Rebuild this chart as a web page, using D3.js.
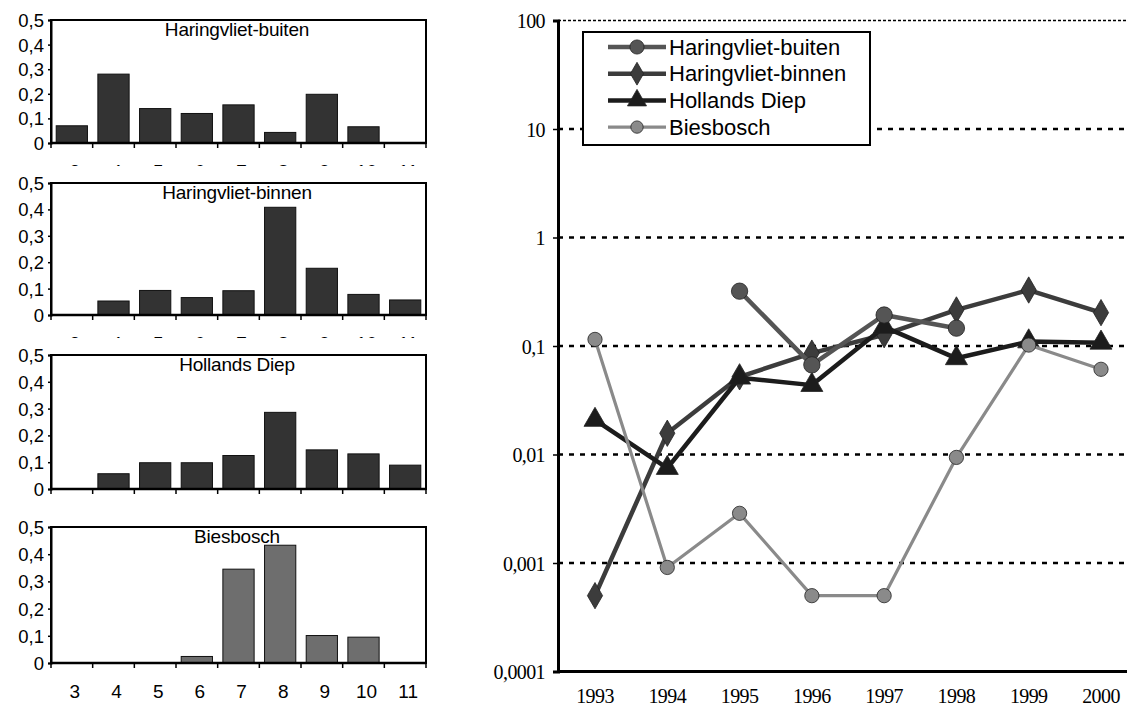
<!DOCTYPE html>
<html>
<head>
<meta charset="utf-8">
<script src="https://cdn.jsdelivr.net/npm/d3@7"></script>
<style>
  html, body { margin: 0; padding: 0; background: #fff; }
  svg { display: block; }
</style>
</head>
<body>
<svg id="chart" width="1127" height="713"></svg>
<script>
// Month categories for the small bar panels
const months = [3, 4, 5, 6, 7, 8, 9, 10, 11];
const barTicks = [0, 0.1, 0.2, 0.3, 0.4, 0.5];
const barTickLabels = ["0", "0,1", "0,2", "0,3", "0,4", "0,5"];

// Monthly share per location
const locations = ["Haringvliet-buiten", "Haringvliet-binnen", "Hollands Diep", "Biesbosch"];
const buitenMonthly = [0.07, 0.28, 0.14, 0.12, 0.155, 0.043, 0.198, 0.066, 0];
const binnenMonthly = [0, 0.053, 0.093, 0.066, 0.092, 0.408, 0.177, 0.078, 0.057];
const diepMonthly   = [0, 0.057, 0.098, 0.098, 0.125, 0.286, 0.146, 0.131, 0.089];
const biesMonthly   = [0, 0, 0, 0.024, 0.345, 0.433, 0.101, 0.095, 0];

// Yearly values (log scale chart)
const years = [1993, 1994, 1995, 1996, 1997, 1998, 1999, 2000];
const buitenYearly = [null, null, 0.32, 0.067, 0.193, 0.146, null, null];
const binnenYearly = [0.0005, 0.0157, 0.052, 0.086, 0.127, 0.215, 0.328, 0.203];
const diepYearly   = [0.0208, 0.0075, 0.051, 0.0436, 0.15, 0.077, 0.11, 0.107];
const biesYearly   = [0.115, 0.00091, 0.00287, 0.0005, 0.0005, 0.0094, 0.102, 0.061];
const logTicks = [0.0001, 0.001, 0.01, 0.1, 1, 10, 100];
const logTickLabels = ["0,0001", "0,001", "0,01", "0,1", "1", "10", "100"];

const svg = d3.select("#chart");
const sans = "'Liberation Sans', Arial, sans-serif";
const serif = "'Liberation Serif', 'Times New Roman', serif";

// ---------- Left column: four stacked bar panels ----------
const panels = [
  { name: locations[0], values: buitenMonthly, top: 20,  zero: 143, cover: 0,   fill: "#333" },
  { name: locations[1], values: binnenMonthly, top: 183, zero: 315, cover: 166, fill: "#333" },
  { name: locations[2], values: diepMonthly,   top: 355, zero: 489, cover: 338, fill: "#333" },
  { name: locations[3], values: biesMonthly,   top: 527, zero: 663, cover: 508, fill: "#6e6e6e" }
];
const left = 51, right = 426;

const xBar = d3.scaleBand().domain(months).range([left, right])
  .paddingInner(0.25).paddingOuter(0.125);

panels.forEach((p, i) => {
  const g = svg.append("g");
  // each panel sits on its own white sheet, hiding the labels of the one above
  g.append("rect").attr("x", 0).attr("y", p.cover).attr("width", 480)
    .attr("height", 713 - p.cover).attr("fill", "#fff");

  const y = d3.scaleLinear().domain([0, 0.5]).range([p.zero, p.top]);

  // bars
  g.selectAll("rect.bar").data(months).join("rect")
    .attr("class", "bar")
    .attr("x", d => xBar(d))
    .attr("width", xBar.bandwidth())
    .attr("y", (d, k) => y(p.values[k]))
    .attr("height", (d, k) => p.zero - y(p.values[k]))
    .attr("fill", p.fill)
    .attr("stroke", "#111")
    .attr("stroke-width", 1);

  // frame
  g.append("rect").attr("x", left).attr("y", p.top)
    .attr("width", right - left).attr("height", p.zero - p.top)
    .attr("fill", "none").attr("stroke", "#000").attr("stroke-width", 2);

  // y axis
  const yAxis = d3.axisLeft(y).tickValues(barTicks)
    .tickFormat((d, k) => barTickLabels[k]).tickSize(3).tickPadding(4);
  const ya = g.append("g").attr("transform", `translate(${left},0)`).call(yAxis);
  ya.select(".domain").attr("stroke", "#000").attr("stroke-width", 2);
  ya.selectAll(".tick line").attr("stroke", "#000").attr("stroke-width", 1.5);
  ya.selectAll(".tick text").attr("font-family", sans).attr("font-size", 18.5)
    .attr("fill", "#000").attr("dy", "0.35em");

  // x axis with ticks on the category boundaries
  g.append("line").attr("x1", left).attr("x2", right)
    .attr("y1", p.zero).attr("y2", p.zero)
    .attr("stroke", "#000").attr("stroke-width", 2.5);
  const step = xBar.step();
  const bounds = months.map(d => xBar(d) - step * xBar.paddingInner() / 2).concat([right]);
  g.selectAll("line.xt").data(bounds).join("line")
    .attr("class", "xt")
    .attr("x1", d => d).attr("x2", d => d)
    .attr("y1", p.zero).attr("y2", p.zero + 5)
    .attr("stroke", "#000").attr("stroke-width", 1.5);
  g.selectAll("text.xl").data(months).join("text")
    .attr("class", "xl")
    .attr("x", d => xBar(d) + xBar.bandwidth() / 2 + 3)
    .attr("y", p.zero + 35)
    .attr("text-anchor", "middle")
    .attr("font-family", sans).attr("font-size", 19).attr("fill", "#000")
    .text(d => d);

  // panel title
  g.append("text").attr("x", 237).attr("y", p.top + 16)
    .attr("text-anchor", "middle")
    .attr("font-family", sans).attr("font-size", 19).attr("letter-spacing", -0.2)
    .attr("fill", "#000")
    .text(p.name);
});

// ---------- Right: log-scale yearly chart ----------
const axisX = 558, plotTop = 20.5, plotBottom = 671.5, plotRight = 1127;

const y = d3.scaleLog().domain([0.0001, 100]).range([plotBottom, plotTop]);
const x = d3.scalePoint().domain(years).range([595, 1101]);

const rg = svg.append("g");

// dashed gridlines
rg.selectAll("line.grid").data(logTicks.slice(1)).join("line")
  .attr("class", "grid")
  .attr("x1", axisX).attr("x2", plotRight)
  .attr("y1", d => y(d)).attr("y2", d => y(d))
  .attr("stroke", "#000")
  .attr("stroke-width", d => d === 100 ? 1.5 : 2.5)
  .attr("stroke-dasharray", d => d === 100 ? "3,2" : "5,6");

// y axis
const yAx = d3.axisLeft(y).tickValues(logTicks)
  .tickFormat((d, k) => logTickLabels[k]).tickSize(5).tickPadding(8);
const yg = rg.append("g").attr("transform", `translate(${axisX},0)`).call(yAx);
yg.select(".domain").attr("stroke", "#000").attr("stroke-width", 3);
yg.selectAll(".tick line").attr("stroke", "#000").attr("stroke-width", 1.5);
yg.selectAll(".tick text").attr("font-family", serif).attr("font-size", 20)
  .attr("letter-spacing", -0.6).attr("fill", "#000").attr("dy", "0.35em");

// x axis
rg.append("line").attr("x1", axisX).attr("x2", plotRight)
  .attr("y1", plotBottom).attr("y2", plotBottom)
  .attr("stroke", "#000").attr("stroke-width", 3);
rg.selectAll("text.year").data(years).join("text")
  .attr("class", "year")
  .attr("x", d => x(d)).attr("y", 703)
  .attr("text-anchor", "middle")
  .attr("font-family", serif).attr("font-size", 20).attr("letter-spacing", -0.6)
  .attr("fill", "#000")
  .text(d => d);

// series
const series = [
  { name: locations[1], values: binnenYearly, color: "#3c3c3c", width: 4.5, symbol: d3.symbolDiamond,  size: 200 },
  { name: locations[2], values: diepYearly,   color: "#1c1c1c", width: 4.5, symbol: d3.symbolTriangle, size: 210 },
  { name: locations[0], values: buitenYearly, color: "#555",    width: 4.5, symbol: d3.symbolCircle,   size: 210 },
  { name: locations[3], values: biesYearly,   color: "#8a8a8a", width: 3.2, symbol: d3.symbolCircle,   size: 160 }
];

const line = d3.line()
  .defined(d => d.v != null)
  .x(d => x(d.year)).y(d => y(d.v));

series.forEach(s => {
  const pts = years.map((yr, k) => ({ year: yr, v: s.values[k] }));
  rg.append("path").datum(pts)
    .attr("d", line)
    .attr("fill", "none").attr("stroke", s.color)
    .attr("stroke-width", s.width).attr("stroke-linejoin", "round");
  rg.selectAll(null).data(pts.filter(d => d.v != null)).join("path")
    .attr("transform", d => `translate(${x(d.year)},${y(d.v)})`)
    .attr("d", d3.symbol().type(s.symbol).size(s.size))
    .attr("fill", s.color).attr("stroke", "#222").attr("stroke-width", 0.8);
});

// legend
const lg = rg.append("g");
lg.append("rect").attr("x", 583).attr("y", 32).attr("width", 287).attr("height", 113)
  .attr("fill", "#fff").attr("stroke", "#000").attr("stroke-width", 2);
const legendOrder = [series[2], series[0], series[1], series[3]];
legendOrder.forEach((s, k) => {
  const cy = 47 + k * 26.7;
  lg.append("line").attr("x1", 608).attr("x2", 666).attr("y1", cy).attr("y2", cy)
    .attr("stroke", s.color).attr("stroke-width", s.width);
  lg.append("path").attr("transform", `translate(637,${cy})`)
    .attr("d", d3.symbol().type(s.symbol).size(s.size * 0.75))
    .attr("fill", s.color).attr("stroke", "#222").attr("stroke-width", 0.8);
  lg.append("text").attr("x", 669).attr("y", cy).attr("dy", "0.35em")
    .attr("font-family", sans).attr("font-size", 22).attr("fill", "#000")
    .text(s.name);
});
</script>
</body>
</html>
